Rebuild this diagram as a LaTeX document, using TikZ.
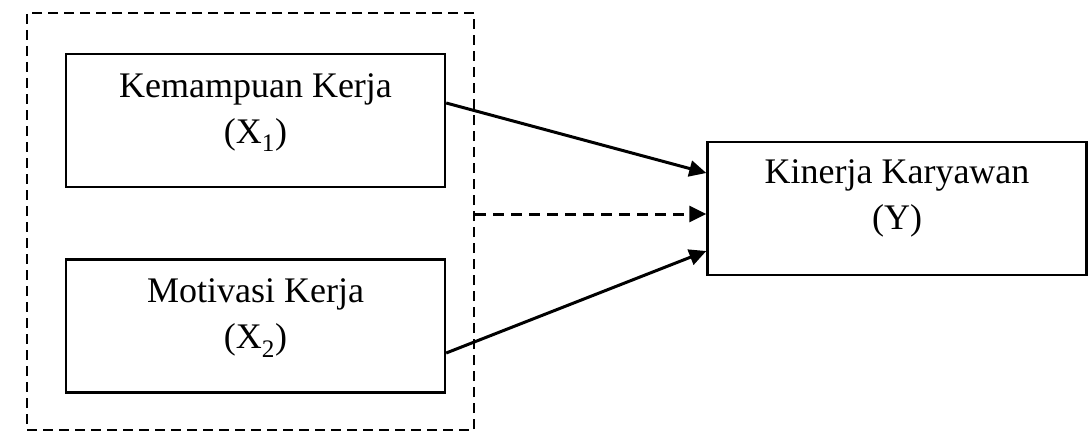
\documentclass[tikz,border=0pt]{standalone}
\usepackage{fontspec}
\setmainfont{Liberation Serif}
\usetikzlibrary{arrows.meta,calc}
\begin{document}
\begin{tikzpicture}[x=1pt,y=-1pt,
  box/.style={draw, line width=2.4pt, minimum width=379pt, minimum height=133pt,
    inner sep=0pt, align=center, font=\fontsize{36}{46}\selectfont},
  frame/.style={draw, line width=2.4pt, dash pattern=on 10pt off 6pt,
    minimum width=447pt, minimum height=417pt, inner sep=0pt},
  conn/.style={line width=3pt, -{Triangle[length=17pt,width=16pt]}},
  dconn/.style={conn, dash pattern=on 11pt off 7pt}]
\useasboundingbox (0,0) rectangle (1090,436);
\node[frame] (frame) at (250.5,221.5) {};
\node[box] (b1) at (255.5,120.5) {Kemampuan Kerja\\(X\textsubscript{1})\rule[-24pt]{0pt}{0pt}};
\node[box] (b2) at (255.5,326) {Motivasi Kerja\\(X\textsubscript{2})\rule[-24pt]{0pt}{0pt}};
\node[box] (y) at (897,208.5) {Kinerja Karyawan\\(Y)\rule[-27pt]{0pt}{0pt}};
\coordinate (d) at ($(frame.east)+(0,-7.5)$);
\draw[conn] ($(b1.east)+(0,-17.5)$) -- ($(y.west)+(0,-35.5)$);
\draw[dconn] (d) -- (d -| y.west);
\draw[conn] ($(b2.east)+(0,27)$) -- ($(y.west)+(0,42.5)$);
\end{tikzpicture}
\end{document}
